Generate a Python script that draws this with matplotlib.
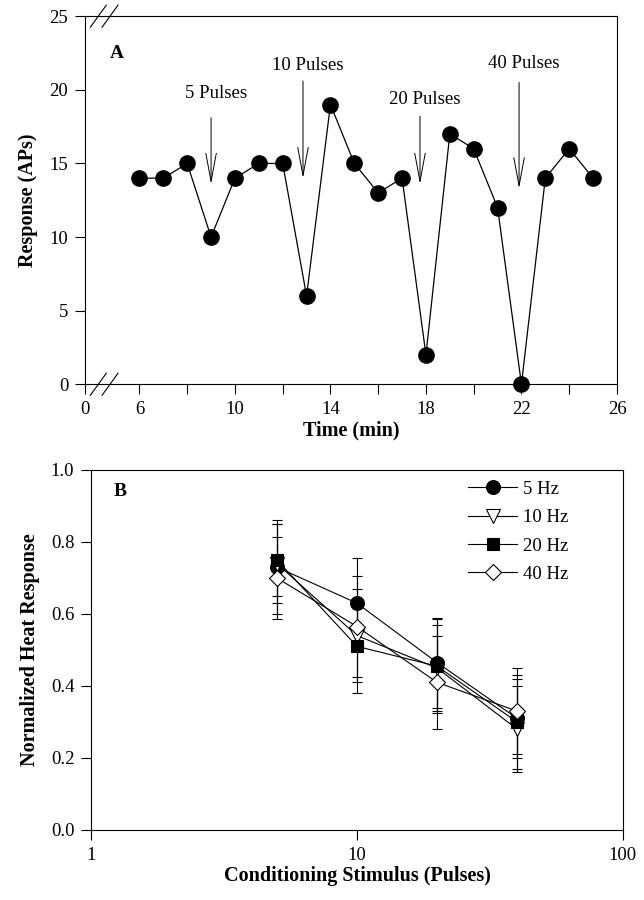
import numpy as np
import matplotlib
matplotlib.use('Agg')
import matplotlib.pyplot as plt
from matplotlib.lines import Line2D

plt.rcParams['font.family'] = ['Liberation Serif', 'DejaVu Serif']
plt.rcParams['font.size'] = 13.5

# panel A data
t = [6, 7, 8, 9, 10, 11, 12, 13, 14, 15, 16, 17, 18, 19, 20, 21, 22, 23, 24, 25]
resp = [14, 14, 15, 10, 14, 15, 15, 6, 19, 15, 13, 14, 2, 17, 16, 12, 0, 14, 16, 14]
stim_labels = ['5 Pulses', '10 Pulses', '20 Pulses', '40 Pulses']
stim_x = [9.0, 12.85, 17.75, 21.9]

# panel B data
pulses = [5, 10, 20, 40]
hz_labels = ['5 Hz', '10 Hz', '20 Hz', '40 Hz']
y5 = [0.73, 0.63, 0.465, 0.31]
e5 = [0.13, 0.125, 0.125, 0.11]
y10 = [0.74, 0.54, 0.45, 0.28]
e10 = [0.11, 0.13, 0.12, 0.12]
y20 = [0.75, 0.51, 0.455, 0.30]
e20 = [0.10, 0.13, 0.13, 0.13]
y40 = [0.70, 0.565, 0.41, 0.33]
e40 = [0.115, 0.14, 0.13, 0.12]

fig = plt.figure(figsize=(6.44, 9), dpi=100)

# ---- panel A ----
x0 = 3.72  # where the "0" sits on the broken axis
axA = fig.add_axes([0.132, 0.573, 0.826, 0.409])
axA.plot(t, resp, 'k-', lw=0.9, marker='o', ms=11, mfc='k', mec='k', clip_on=False, zorder=3)
axA.set_xlim(x0, 26)
axA.set_ylim(0, 25)
axA.set_xticks([x0, 6, 8, 10, 12, 14, 16, 18, 20, 22, 24, 26])
axA.set_xticklabels(['0', '6', '', '10', '', '14', '', '18', '', '22', '', '26'])
axA.set_yticks([0, 5, 10, 15, 20, 25])
axA.tick_params(direction='out', length=7, width=0.8, pad=5)
axA.set_xlabel('Time (min)', fontweight='bold', fontsize=14.5, labelpad=2)
axA.set_ylabel('Response (APs)', fontweight='bold', fontsize=14.5, labelpad=8)
axA.text(5.05, 22.5, 'A', fontweight='bold', fontsize=14, ha='center', va='center')

text_y = [19.75, 21.65, 19.35, 21.8]
top_y = [18.1, 20.6, 18.2, 20.5]
tip_y = [13.6, 14.0, 13.6, 13.3]
for lab, xs, ty, y1, y2 in zip(stim_labels, stim_x, text_y, top_y, tip_y):
    axA.text(xs + 0.2, ty, lab, ha='center', va='center', fontsize=13.5)
    axA.annotate('', xy=(xs, y2), xytext=(xs, y1),
                 arrowprops=dict(arrowstyle='->,head_length=1.5,head_width=0.28',
                                 lw=0.7, color='k', shrinkA=0, shrinkB=0))

# axis break marks
for yb in (0, 1):
    for xb in (0.025, 0.047):
        axA.plot([xb - 0.015, xb + 0.015], [yb - 0.03, yb + 0.03], 'k-', lw=0.8,
                 transform=axA.transAxes, clip_on=False)

for s in axA.spines.values():
    s.set_linewidth(0.8)

# ---- panel B ----
axB = fig.add_axes([0.1413, 0.0778, 0.826, 0.4])
series = [(y5, e5, 'o', 'k', 10), (y10, e10, 'v', 'w', 10),
          (y20, e20, 's', 'k', 9), (y40, e40, 'D', 'w', 8.5)]
handles = []
for (yy, ee, m, fc, ms), lab in zip(series, hz_labels):
    axB.errorbar(pulses, yy, yerr=ee, fmt='-', color='k', lw=0.8, marker=m,
                 ms=ms, mfc=fc, mec='k', mew=0.8, ecolor='k', elinewidth=0.8,
                 capsize=3.5, capthick=0.8)
    handles.append(Line2D([], [], color='k', lw=0.8, marker=m, ms=ms, mfc=fc,
                          mec='k', mew=0.8, label=lab))
axB.set_xscale('log')
axB.set_xlim(1, 100)
axB.set_ylim(0, 1)
axB.set_xticks([1, 10, 100])
axB.set_xticklabels(['1', '10', '100'])
axB.xaxis.set_minor_locator(matplotlib.ticker.NullLocator())
axB.set_yticks([0, 0.2, 0.4, 0.6, 0.8, 1.0])
axB.set_yticklabels(['0.0', '0.2', '0.4', '0.6', '0.8', '1.0'])
axB.tick_params(direction='out', length=7, width=0.8, pad=5)
axB.set_xlabel('Conditioning Stimulus (Pulses)', fontweight='bold', fontsize=14.5, labelpad=2)
axB.set_ylabel('Normalized Heat Response', fontweight='bold', fontsize=14.5, labelpad=8)
axB.text(1.285, 0.939, 'B', fontweight='bold', fontsize=14, ha='center', va='center')
axB.legend(handles=handles, loc='upper left', bbox_to_anchor=(0.709, 0.97),
           borderaxespad=0, borderpad=0, frameon=False,
           fontsize=13.5, handlelength=2.6, labelspacing=0.6, handletextpad=0.3)
for s in axB.spines.values():
    s.set_linewidth(0.8)

fig.savefig('out.png', dpi=100)
